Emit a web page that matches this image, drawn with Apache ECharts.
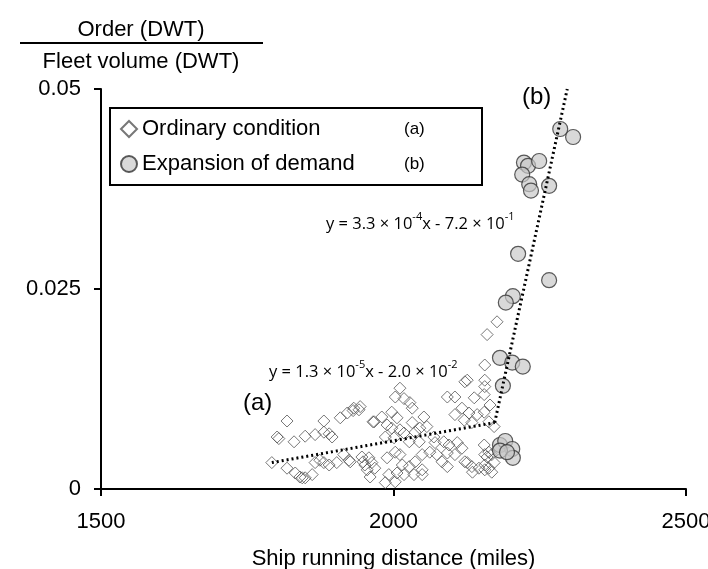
<!DOCTYPE html>
<html>
<head>
<meta charset="utf-8">
<script src="https://cdn.jsdelivr.net/npm/echarts@6/dist/echarts.min.js"></script>
<style>
  html, body { margin: 0; padding: 0; background: #fff; }
  #chart { width: 708px; height: 569px; }
</style>
</head>
<body>
<div id="chart"></div>
<script>
    // ordinary condition (a): [distance, order / fleet volume]
    var ordinaryPts = [
        [1792, 0.0033], [1818, 0.0085], [1881, 0.0085], [1909, 0.0089], [1931, 0.0098],
        [1943, 0.0103], [1965, 0.0084], [1801, 0.0065], [1804, 0.0063], [1830, 0.0059],
        [1849, 0.0066], [1866, 0.0068], [1881, 0.0071], [1890, 0.0069], [1895, 0.0065],
        [1818, 0.0026], [1832, 0.0020], [1840, 0.0015], [1844, 0.0014], [1849, 0.0014],
        [1861, 0.0018], [1866, 0.0033], [1874, 0.0036], [1881, 0.0033], [1890, 0.0030],
        [1903, 0.0033], [1926, 0.0034], [1948, 0.0034], [1955, 0.0024], [1960, 0.0015],
        [2011, 0.0126], [2003, 0.0115], [2018, 0.0113], [2028, 0.0108], [2032, 0.0101],
        [1921, 0.0095], [1932, 0.0101], [1941, 0.0099], [1967, 0.0084], [1980, 0.0090],
        [1997, 0.0096], [2006, 0.0089], [1989, 0.0080], [1997, 0.0076], [2011, 0.0074],
        [2018, 0.0070], [2032, 0.0083], [2037, 0.0071], [2045, 0.0076], [1986, 0.0065],
        [2001, 0.0064], [2027, 0.0059], [2044, 0.0059], [1915, 0.0043], [1924, 0.0036],
        [1946, 0.0040], [1958, 0.0039], [1963, 0.0033], [1951, 0.0030], [1968, 0.0026],
        [1989, 0.0039], [2003, 0.0046], [2011, 0.0043], [2015, 0.0030], [2027, 0.0028],
        [2037, 0.0034], [2049, 0.0043], [1992, 0.0018], [2006, 0.0020], [2018, 0.0018],
        [2035, 0.0018], [2049, 0.0018], [1986, 0.0008], [2003, 0.0009],
        [2156, 0.0155], [2122, 0.0134], [2156, 0.0128], [2092, 0.0115], [2105, 0.0115],
        [2138, 0.0114], [2155, 0.0118], [2165, 0.0105], [2117, 0.0101], [2129, 0.0095],
        [2143, 0.0093], [2155, 0.0096], [2163, 0.0084], [2172, 0.0078], [2105, 0.0093],
        [2121, 0.0086], [2134, 0.0083], [2052, 0.0090], [2057, 0.0078], [2069, 0.0065],
        [2071, 0.0058], [2086, 0.0059], [2095, 0.0055], [2109, 0.0058], [2117, 0.0051],
        [2062, 0.0046], [2074, 0.0043], [2092, 0.0045], [2105, 0.0043], [2155, 0.0055],
        [2163, 0.0046], [2156, 0.0043], [2168, 0.0043], [2177, 0.0049], [2083, 0.0034],
        [2092, 0.0028], [2122, 0.0034], [2134, 0.0028], [2146, 0.0026], [2156, 0.0030],
        [2163, 0.0026], [2172, 0.0033], [2049, 0.0024], [2177, 0.0209], [2160, 0.0193],
        [2156, 0.0136], [2126, 0.0136], [2135, 0.0021], [2156, 0.0024], [2168, 0.0021],
        [2126, 0.0033], [2160, 0.0040]
    ];

    // expansion of demand (b)
    var expansionPts = [
        [2285, 0.0450], [2307, 0.0440], [2223, 0.0408], [2230, 0.0404], [2249, 0.0410],
        [2220, 0.0393], [2232, 0.0381], [2235, 0.0373], [2266, 0.0379], [2213, 0.0294],
        [2266, 0.0261], [2204, 0.0241], [2192, 0.0233], [2182, 0.0164], [2203, 0.0158],
        [2221, 0.0153], [2187, 0.0129], [2182, 0.0055], [2191, 0.0060], [2203, 0.0050],
        [2182, 0.0048], [2204, 0.0039], [2194, 0.0046]
    ];

    // fitted lines
    var trendA = [[1792, 0.0033], [2173, 0.0083]];
    var trendB = [[2173, 0.0083], [2297, 0.0500]];

    var xTicks = [1500, 2000, 2500];
    var yTicks = [0, 0.025, 0.05];

    var FONT = 'Liberation Sans';
    var EQ_FONT = 'Open Sans';

    var eqRich = {
        a: { fontFamily: EQ_FONT, fontSize: 16.5, fill: '#000', lineHeight: 22, verticalAlign: 'bottom' },
        s: { fontFamily: EQ_FONT, fontSize: 11, fill: '#000', lineHeight: 22, verticalAlign: 'top' }
    };

    var option = {
        animation: false,
        backgroundColor: '#fff',
        grid: {
            left: 101,
            right: 22,
            top: 89,
            bottom: 80,
            outerBoundsMode: 'none'
        },
        legend: {
            data: ['Ordinary condition', 'Expansion of demand'],
            orient: 'vertical',
            left: 110,
            top: 108,
            padding: [10, 10, 10, 10],
            itemGap: 13,
            itemWidth: 16,
            itemHeight: 16,
            borderColor: '#000',
            borderWidth: 2,
            formatter: function (name) {
                var tag = name === 'Ordinary condition' ? '(a)' : '(b)';
                return '{n|' + name + '}{t|' + tag + '}';
            },
            textStyle: {
                rich: {
                    n: { fontFamily: FONT, fontSize: 22, color: '#000', width: 262, lineHeight: 26 },
                    t: { fontFamily: FONT, fontSize: 17, color: '#000', width: 68, lineHeight: 26 }
                }
            }
        },
        xAxis: {
            type: 'value',
            min: xTicks[0],
            max: xTicks[2],
            interval: 500,
            name: 'Ship running distance (miles)',
            nameLocation: 'middle',
            nameGap: 59,
            nameTextStyle: { fontFamily: FONT, fontSize: 22, color: '#000' },
            axisLine: { lineStyle: { color: '#000', width: 2 } },
            axisTick: { show: true, inside: false, length: 7, lineStyle: { color: '#000', width: 2 } },
            axisLabel: {
                fontFamily: FONT, fontSize: 22, color: '#000', margin: 22,
                formatter: function (v) { return String(v); }
            },
            splitLine: { show: false }
        },
        yAxis: {
            type: 'value',
            min: yTicks[0],
            max: yTicks[2],
            interval: 0.025,
            axisLine: { show: true, lineStyle: { color: '#000', width: 2 } },
            axisTick: { show: true, inside: false, length: 7, lineStyle: { color: '#000', width: 2 } },
            axisLabel: {
                fontFamily: FONT, fontSize: 22, color: '#000', margin: 20,
                formatter: function (v) { return String(v); }
            },
            splitLine: { show: false }
        },
        graphic: [
            {
                type: 'text', x: 141, y: 30,
                style: { text: 'Order (DWT)', font: '22px "Liberation Sans"', fill: '#000', align: 'center', verticalAlign: 'middle' }
            },
            {
                type: 'line',
                shape: { x1: 20, y1: 43, x2: 263, y2: 43 },
                style: { stroke: '#000', lineWidth: 2 }
            },
            {
                type: 'text', x: 141, y: 62,
                style: { text: 'Fleet volume (DWT)', font: '22px "Liberation Sans"', fill: '#000', align: 'center', verticalAlign: 'middle' }
            },
            {
                type: 'text', x: 243, y: 391,
                style: { text: '(a)', font: '24px "Liberation Sans"', fill: '#000' }
            },
            {
                type: 'text', x: 522, y: 85,
                style: { text: '(b)', font: '24px "Liberation Sans"', fill: '#000' }
            },
            {
                type: 'text', x: 326, y: 211,
                style: { text: '{a|y = 3.3 × 10}{s|-4}{a|x - 7.2 × 10}{s|-1}', rich: eqRich }
            },
            {
                type: 'text', x: 269, y: 359,
                style: { text: '{a|y = 1.3 × 10}{s|-5}{a|x - 2.0 × 10}{s|-2}', rich: eqRich }
            }
        ],
        series: [
            {
                name: 'Ordinary condition',
                type: 'scatter',
                symbol: 'diamond',
                symbolSize: 12,
                data: ordinaryPts,
                itemStyle: { color: 'rgba(255,255,255,0)', borderColor: '#555', borderWidth: 1 },
                z: 2
            },
            {
                name: 'Expansion of demand',
                type: 'scatter',
                symbol: 'circle',
                symbolSize: 15,
                data: expansionPts,
                itemStyle: { color: 'rgba(200,200,200,0.85)', borderColor: '#333', borderWidth: 1.2 },
                z: 3
            },
            {
                name: 'trendA',
                type: 'line',
                data: trendA,
                symbol: 'none',
                lineStyle: { color: '#000', width: 3, type: [2, 3] },
                z: 4
            },
            {
                name: 'trendB',
                type: 'line',
                data: trendB,
                symbol: 'none',
                lineStyle: { color: '#000', width: 3, type: [2, 3] },
                z: 4
            }
        ]
    };

    var chart = echarts.init(document.getElementById('chart'));
    chart.setOption(option);
</script>
</body>
</html>
